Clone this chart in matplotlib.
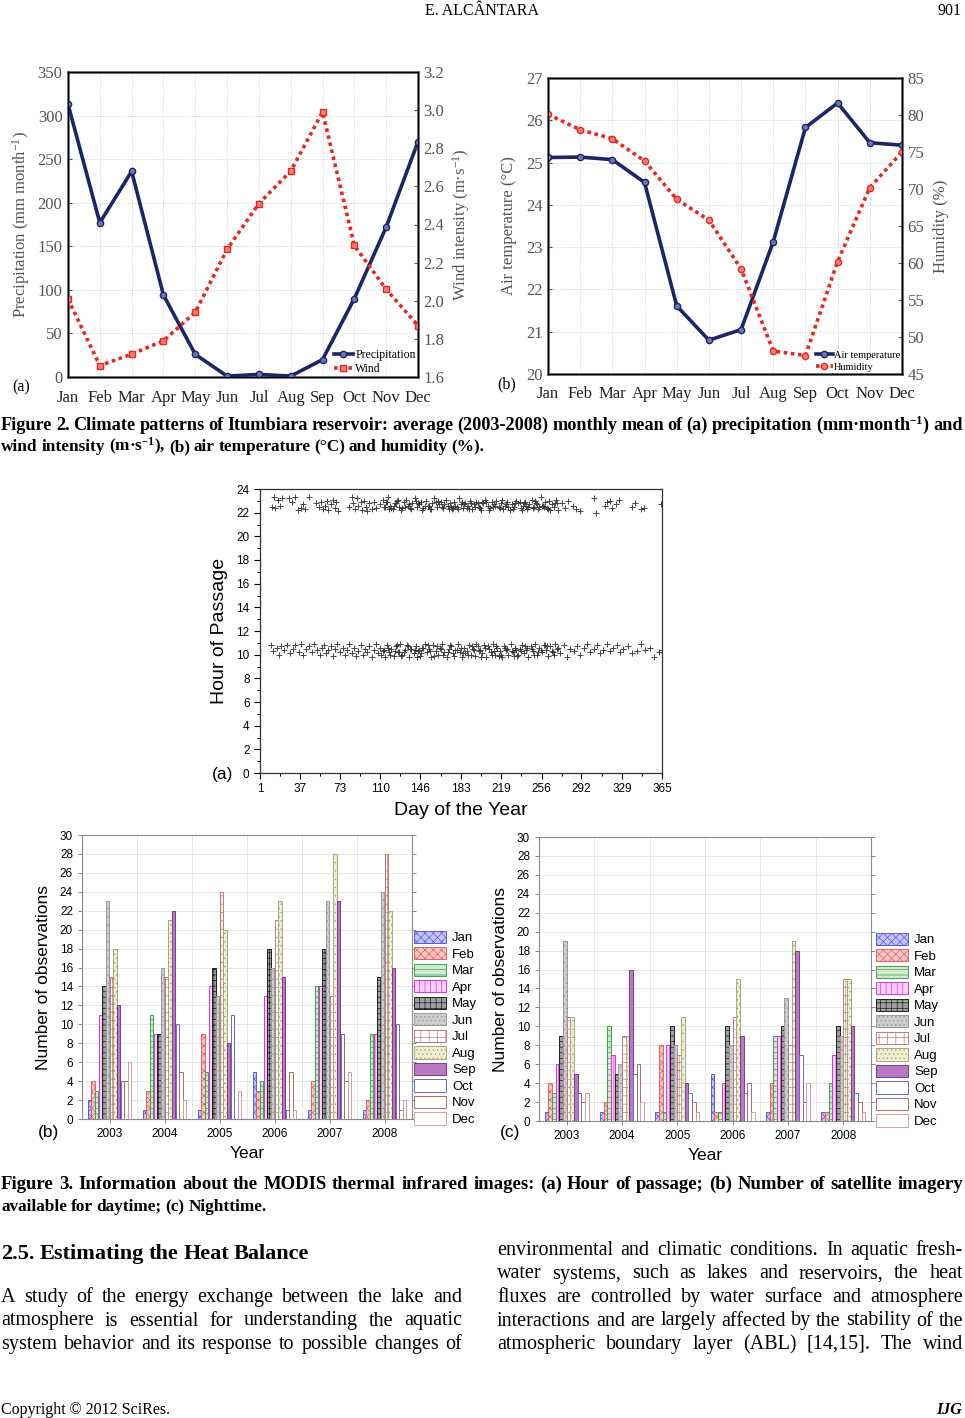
import matplotlib
matplotlib.use("Agg")
import matplotlib.pyplot as plt
from matplotlib.patches import Patch
import numpy as np

W, H = 965, 1418
SERIF = ["Liberation Serif", "DejaVu Serif"]
SANS = ["Liberation Sans", "DejaVu Sans"]

plt.rcParams["mathtext.default"] = "regular"
plt.rcParams["hatch.linewidth"] = 0.5

# Fig 2 data (monthly means 2003-2008)
MONTHS = ["Jan", "Feb", "Mar", "Apr", "May", "Jun", "Jul", "Aug", "Sep", "Oct", "Nov", "Dec"]
PRECIP = [313, 177, 236, 94, 26, 1, 3, 1, 20, 90, 172, 270]
WIND = [2.01, 1.66, 1.72, 1.79, 1.94, 2.27, 2.51, 2.68, 2.99, 2.29, 2.06, 1.87]
AIR_TEMP = [25.12, 25.13, 25.07, 24.53, 21.61, 20.80, 21.05, 23.13, 25.83, 26.41, 25.47, 25.41]
HUMIDITY = [80.1, 78.0, 76.8, 73.8, 68.6, 65.8, 59.2, 48.1, 47.5, 60.2, 70.2, 75.0]

# Fig 3a: MODIS passes (day of year, hour)
NIGHT_DAY = [
    12, 14, 15, 17, 19, 21, 27, 30, 33, 35,
    38, 40, 42, 45, 52, 54, 56, 58, 60, 62,
    63, 65, 67, 69, 70, 72, 82, 84, 85, 87,
    89, 90, 92, 93, 95, 97, 98, 100, 102, 104,
    106, 110, 112, 114, 116, 117, 119, 121, 123, 125,
    127, 129, 131, 133, 135, 137, 139, 141, 143, 145,
    147, 149, 151, 153, 155, 157, 159, 161, 163, 165,
    167, 169, 171, 173, 175, 177, 179, 181, 183, 185,
    187, 189, 191, 193, 195, 197, 199, 201, 203, 205,
    207, 209, 211, 213, 215, 217, 219, 221, 223, 225,
    227, 229, 231, 233, 235, 237, 239, 241, 243, 245,
    247, 249, 251, 253, 255, 257, 259, 261, 263, 265,
    267, 269, 271, 274, 277, 280, 284, 287, 291, 303,
    305, 313, 315, 318, 320, 323, 326, 338, 341, 346,
    118, 124, 130, 136, 142, 148, 154, 160, 166, 172,
    178, 184, 190, 196, 202, 208, 214, 220, 226, 232,
    238, 244, 250, 256, 262, 268, 113, 176, 198, 254,
    115, 120, 126, 132, 138, 144, 150, 156, 162, 168,
    174, 180, 186, 192, 200, 206, 212, 218, 224, 230,
    236, 242, 248, 252, 258, 264, 270, 122, 188, 240,
    349, 364,
]
NIGHT_HOUR = [
    22.5, 23.3, 22.4, 23.1, 22.6, 23.2, 23.2, 22.9, 23.3, 22.2,
    22.4, 22.7, 22.3, 23.3, 22.8, 22.5, 22.9, 22.3, 22.6, 23.0,
    22.2, 22.7, 23.1, 22.4, 22.9, 22.1, 22.5, 23.3, 22.8, 22.3,
    23.2, 22.6, 22.9, 22.2, 23.0, 22.5, 22.1, 22.8, 22.3, 22.9,
    22.4, 22.7, 23.1, 22.5, 22.9, 23.3, 22.6, 22.3, 22.8, 23.0,
    22.5, 22.2, 22.9, 23.1, 22.6, 22.4, 22.8, 23.2, 22.5, 22.7,
    22.9, 22.4, 23.0, 22.6, 22.3, 22.8, 23.2, 22.5, 22.7, 22.9,
    22.4, 23.1, 22.6, 22.8, 22.3, 22.9, 22.5, 23.2, 22.7, 22.4,
    22.8, 22.6, 23.0, 22.3, 22.7, 22.9, 22.5, 22.2, 22.8, 23.1,
    22.6, 22.4, 22.9, 22.7, 23.0, 22.5, 22.8, 22.3, 22.6, 22.9,
    22.2, 22.7, 22.5, 23.0, 22.8, 22.4, 22.6, 22.9, 22.3, 22.7,
    23.1, 22.5, 22.8, 22.3, 23.3, 22.6, 22.9, 22.4, 23.0, 22.7,
    22.5, 23.1, 22.2, 22.8, 22.4, 23.0, 22.6, 22.3, 22.1, 23.2,
    22.0, 22.6, 22.9, 23.0, 22.4, 22.7, 23.1, 22.5, 22.8, 22.3,
    22.3, 22.8, 22.4, 22.7, 23.0, 22.2, 22.6, 22.9, 22.5, 22.3,
    22.6, 22.9, 22.3, 22.5, 22.9, 22.2, 22.6, 23.1, 22.5, 22.8,
    22.2, 22.5, 23.0, 22.6, 22.3, 22.8, 22.5, 22.4, 22.8, 22.5,
    22.9, 22.4, 23.1, 22.5, 22.3, 22.8, 22.6, 22.3, 23.0, 22.7,
    22.5, 22.3, 22.7, 22.8, 22.4, 22.9, 22.5, 22.4, 22.7, 22.3,
    22.9, 22.6, 22.4, 22.7, 22.5, 22.2, 22.8, 22.6, 22.4, 22.8,
    22.4, 22.7,
]
DAY_DAY = [
    11, 13, 16, 18, 20, 23, 25, 28, 31, 33,
    36, 38, 40, 43, 45, 48, 50, 53, 55, 57,
    59, 61, 63, 65, 67, 69, 71, 73, 76, 78,
    80, 82, 84, 86, 88, 90, 92, 94, 96, 98,
    100, 102, 104, 106, 108, 110, 112, 114, 116, 118,
    120, 122, 124, 126, 128, 130, 132, 134, 136, 138,
    140, 142, 144, 146, 148, 150, 152, 154, 156, 158,
    160, 162, 164, 166, 168, 170, 172, 174, 176, 178,
    180, 182, 184, 186, 188, 190, 192, 194, 196, 198,
    200, 202, 204, 206, 208, 210, 212, 214, 216, 218,
    220, 222, 224, 226, 228, 230, 232, 234, 236, 238,
    240, 242, 244, 246, 248, 250, 252, 254, 256, 258,
    260, 262, 264, 266, 268, 270, 273, 276, 279, 282,
    285, 288, 291, 294, 297, 300, 303, 306, 309, 312,
    315, 318, 321, 324, 327, 330, 334, 338, 342, 346,
    111, 117, 123, 129, 135, 141, 147, 153, 159, 165,
    171, 177, 183, 189, 195, 201, 207, 213, 219, 225,
    231, 237, 243, 249, 255, 261, 267, 145, 185, 215,
    113, 119, 125, 131, 137, 143, 149, 155, 161, 167,
    173, 179, 187, 193, 199, 205, 211, 217, 223, 229,
    235, 241, 247, 253, 259, 265, 271, 127, 197, 233,
    350, 354, 358, 362, 365,
]
DAY_HOUR = [
    10.8, 10.3, 10.6, 10.0, 10.7, 10.4, 10.8, 10.1, 10.5, 10.8,
    10.2, 10.9, 10.0, 10.5, 10.7, 10.2, 10.9, 10.4, 10.0, 10.6,
    10.8, 10.1, 10.4, 10.7, 9.9, 10.5, 10.9, 10.2, 10.6, 10.0,
    10.4, 10.9, 10.1, 10.6, 9.9, 10.3, 10.8, 10.0, 10.5, 10.2,
    10.7, 9.8, 10.4, 10.9, 10.1, 10.6, 10.3, 9.8, 10.8, 10.2,
    10.5, 9.9, 10.7, 10.2, 10.9, 10.0, 10.4, 10.8, 9.8, 10.5,
    10.1, 10.7, 10.3, 9.9, 10.6, 10.9, 10.2, 10.5, 9.8, 10.8,
    10.3, 10.0, 10.6, 10.9, 10.2, 9.8, 10.5, 10.7, 10.1, 10.4,
    10.9, 10.2, 9.8, 10.6, 10.3, 10.8, 10.0, 10.5, 9.9, 10.7,
    10.4, 10.1, 10.8, 9.8, 10.5, 10.2, 10.9, 10.0, 10.6, 10.3,
    9.8, 10.7, 10.4, 10.0, 10.9, 10.2, 10.6, 9.9, 10.5, 10.8,
    10.1, 10.4, 9.8, 10.7, 10.3, 10.9, 10.0, 10.6, 10.2, 10.8,
    10.4, 9.9, 10.7, 10.2, 10.9, 10.5, 10.1, 10.8, 9.8, 10.5,
    10.3, 10.7, 10.0, 10.6, 10.9, 10.2, 10.5, 10.8, 10.1, 10.4,
    10.9, 10.3, 10.6, 10.8, 10.2, 10.5, 10.7, 10.1, 10.3, 10.9,
    10.0, 10.6, 10.3, 9.9, 10.7, 10.4, 10.1, 10.8, 9.9, 10.5,
    10.2, 9.9, 10.6, 10.0, 10.4, 9.8, 10.7, 10.3, 10.0, 10.5,
    9.9, 10.3, 10.6, 10.0, 10.4, 10.7, 10.0, 10.4, 10.1, 10.7,
    10.4, 10.0, 10.8, 10.2, 10.5, 9.8, 10.6, 10.3, 10.7, 10.0,
    10.8, 10.4, 10.1, 10.7, 10.3, 10.6, 10.0, 9.9, 10.6, 10.3,
    10.0, 10.7, 10.5, 10.2, 10.8, 10.3, 10.6, 10.2, 10.9, 10.4,
    10.4, 10.6, 9.8, 10.2, 10.4,
]
DOY_TICKS = [1, 37, 73, 110, 146, 183, 219, 256, 292, 329, 365]

# Fig 3b/c: number of observations per month (rows = years)
YEARS = [2003, 2004, 2005, 2006, 2007, 2008]
DAYTIME_COUNTS = [
    [2, 4, 3, 11, 14, 23, 15, 18, 12, 4, 4, 6],
    [1, 3, 11, 9, 9, 16, 15, 21, 22, 10, 5, 2],
    [1, 9, 5, 14, 16, 13, 24, 20, 8, 11, 0, 3],
    [5, 3, 4, 13, 18, 16, 21, 23, 15, 1, 5, 1],
    [1, 4, 14, 14, 18, 23, 13, 28, 23, 9, 4, 5],
    [1, 2, 9, 9, 15, 24, 28, 22, 16, 10, 1, 2],
]
NIGHTTIME_COUNTS = [
    [1, 4, 3, 6, 9, 19, 11, 11, 5, 3, 2, 3],
    [1, 2, 10, 7, 5, 6, 9, 9, 16, 5, 6, 2],
    [1, 8, 1, 8, 10, 8, 7, 11, 4, 3, 2, 1],
    [5, 1, 1, 4, 10, 8, 11, 15, 9, 3, 4, 1],
    [1, 4, 9, 9, 10, 13, 8, 19, 18, 7, 2, 4],
    [1, 1, 4, 7, 10, 9, 15, 15, 10, 3, 2, 1],
]

BAR_STYLES = [
    dict(facecolor="#c4c4fa", edgecolor="#5a5ae6", hatch="xxxx"),
    dict(facecolor="#fac8c4", edgecolor="#e66060", hatch="xxxx"),
    dict(facecolor="#cfeacf", edgecolor="#3fa050", hatch="---"),
    dict(facecolor="#fbd0fb", edgecolor="#e030e0", hatch="|||"),
    dict(facecolor="#a0a0a0", edgecolor="#202020", hatch="+++"),
    dict(facecolor="#cdcdcd", edgecolor="#9a9a9a", hatch="...."),
    dict(facecolor="#ffffff", edgecolor="#c07878", hatch="++"),
    dict(facecolor="#efefd6", edgecolor="#a8a878", hatch="...."),
    dict(facecolor="#b878c4", edgecolor="#7a3a8a", hatch=None),
    dict(facecolor="#ffffff", edgecolor="#6a6ac8", hatch=None),
    dict(facecolor="#ffffff", edgecolor="#b06868", hatch=None),
    dict(facecolor="#ffffff", edgecolor="#d0a0a0", hatch=None),
]

fig = plt.figure(figsize=(W / 100, H / 100), dpi=100)
renderer = fig.canvas.get_renderer()


def fx(x):
    return x / W


def fy(y):
    return 1 - y / H


def add_ax(x0, y0, x1, y1):
    return fig.add_axes([x0 / W, 1 - y1 / H, (x1 - x0) / W, (y1 - y0) / H])


def text_line(line, x0, x1, y, size, weight="normal", justify=True, family=SERIF, style="normal"):
    # place words one by one so the line fills the column like the journal page
    words = line.split(" ")
    arts = [fig.text(0, fy(y), w, fontsize=size, fontweight=weight, family=family,
                     style=style, va="baseline", ha="left") for w in words]
    widths = [a.get_window_extent(renderer).width for a in arts]
    space = 0.22 * size * 100 / 72
    need = sum(widths) + space * (len(words) - 1)
    if need > x1 - x0:
        k = (x1 - x0) / need
        for a in arts:
            a.set_fontsize(size * k)
        widths = [a.get_window_extent(renderer).width for a in arts]
        space *= k
    if justify and len(words) > 1:
        gap = (x1 - x0 - sum(widths)) / (len(words) - 1)
    else:
        gap = space
    x = x0
    for a, w in zip(arts, widths):
        a.set_x(fx(x))
        x += w + gap


def style_top(ax, ax2):
    for sp in ax.spines.values():
        sp.set_color("#4a5260")
        sp.set_linewidth(1.8)
    ax.set_xlim(0, 11)
    ax.set_xticks(range(12))
    ax.set_xticklabels(MONTHS, family=SERIF, fontsize=12, color="#222222")
    ax.grid(True, color="#c8c8c8", ls=":", lw=0.6)
    for a in (ax, ax2):
        a.tick_params(axis="y", labelsize=12, labelcolor="#555555", length=3, width=0.8,
                      direction="in", color="#4a5260", pad=4)
        for lab in a.get_yticklabels():
            lab.set_family(SERIF)
    ax.tick_params(axis="x", length=0, pad=9)


# ---- Figure 2 (a) precipitation / wind
x = np.arange(12)
ax = add_ax(68, 72, 418, 377)
ax2 = ax.twinx()
l1, = ax.plot(x, PRECIP, color="#1c2566", lw=2.6, marker="o", ms=4.5, mfc="#6d78b0",
              mec="#1c2566", mew=1, label="Precipitation", zorder=3)
l2, = ax2.plot(x, WIND, color="#e8281e", lw=2.6, ls=(0, (1, 1)), marker="s", ms=4.5,
               mfc="#f08078", mec="#e8281e", mew=1, label="Wind")
ax.set_ylim(0, 350)
ax.set_yticks(range(0, 351, 50))
ax2.set_ylim(1.6, 3.2)
ax2.set_yticks(np.arange(1.6, 3.21, 0.2))
ax2.set_yticklabels([f"{v:.1f}" for v in np.arange(1.6, 3.21, 0.2)])
style_top(ax, ax2)
ax.set_ylabel("Precipitation (mm month$^{-1}$)", family=SERIF, fontsize=12, color="#555555", labelpad=4)
ax2.set_ylabel("Wind intensity (m·s$^{-1}$)", family=SERIF, fontsize=12, color="#555555", labelpad=4)
ax2.legend(handles=[l1, l2], loc="lower right", frameon=False, handlelength=1.6,
           borderaxespad=0.1, borderpad=0.1, labelspacing=0.1, handletextpad=0.2,
           prop=dict(family=SERIF, size=8.5))
fig.text(fx(12), fy(387), "(a)", family=SERIF, fontsize=11.5, va="center")

# ---- Figure 2 (b) air temperature / humidity
ax = add_ax(548, 78, 902, 374)
ax2 = ax.twinx()
l1, = ax.plot(x, AIR_TEMP, color="#1c2566", lw=2.6, marker="o", ms=4.5, mfc="#6d78b0",
              mec="#1c2566", mew=1, label="Air temperature", zorder=3)
l2, = ax2.plot(x, HUMIDITY, color="#e8281e", lw=2.6, ls=(0, (1, 1)), marker="o", ms=4.5,
               mfc="#f08078", mec="#e8281e", mew=1, label="Humidity")
ax.set_ylim(20, 27)
ax.set_yticks(range(20, 28))
ax2.set_ylim(45, 85)
ax2.set_yticks(range(45, 86, 5))
style_top(ax, ax2)
ax.set_ylabel("Air temperature (°C)", family=SERIF, fontsize=12, color="#555555", labelpad=6)
ax2.set_ylabel("Humidity (%)", family=SERIF, fontsize=12, color="#555555", labelpad=6)
ax2.legend(handles=[l1, l2], loc="lower right", frameon=False, handlelength=1.6,
           borderaxespad=0.1, borderpad=0.1, labelspacing=0.3, handletextpad=0.1,
           prop=dict(family=SERIF, size=7.5))
fig.text(fx(497), fy(384), "(b)", family=SERIF, fontsize=11.5, va="center")

# ---- captions
text_line("Figure 2. Climate patterns of Itumbiara reservoir: average (2003-2008) monthly mean of (a) precipitation (mm·month$^{–1}$) and",
          1, 963, 430, 13.5, weight="bold")
text_line("wind intensity (m·s$^{–1}$), (b) air temperature (°C) and humidity (%).",
          1, 963, 451, 12.4, weight="bold", justify=False)

# ---- Figure 3 (a) hour of passage
ax = add_ax(260, 489, 662, 773)
ax.scatter(NIGHT_DAY, NIGHT_HOUR, marker="+", s=17, lw=0.65, c="#3a3a3a")
ax.scatter(DAY_DAY, DAY_HOUR, marker="+", s=17, lw=0.65, c="#3a3a3a")
ax.set_xlim(1, 365)
ax.set_ylim(0, 24)
ax.set_xticks(DOY_TICKS)
ax.set_xticks([(a + b) / 2 for a, b in zip(DOY_TICKS[:-1], DOY_TICKS[1:])], minor=True)
ax.set_yticks(range(0, 25, 2))
ax.set_yticks(range(0, 25, 1), minor=True)
ax.tick_params(which="both", direction="out", labelsize=8.5, width=0.8)
ax.tick_params(which="major", length=4)
ax.tick_params(which="minor", length=2)
for lab in ax.get_xticklabels() + ax.get_yticklabels():
    lab.set_family(SANS)
for sp in ax.spines.values():
    sp.set_linewidth(0.9)
    sp.set_color("#333333")
ax.set_xlabel("Day of the Year", family=SANS, fontsize=14, labelpad=5)
ax.set_ylabel("Hour of Passage", family=SANS, fontsize=14, labelpad=6)
fig.text(fx(212), fy(774), "(a)", family=SANS, fontsize=12.5, va="center")


# ---- Figure 3 (b)/(c) number of observations
def bar_panel(box, counts, legend_anchor, label_pos, tag):
    ax = add_ax(*box)
    width = 0.8 / 12
    for i, st in enumerate(BAR_STYLES):
        xs = [yr - 0.4 + (i + 0.5) * width for yr in YEARS]
        vals = [row[i] for row in counts]
        ax.bar(xs, vals, width=width, linewidth=0.7, zorder=3, **st)
    ax.set_xlim(YEARS[0] - 0.5, YEARS[-1] + 0.5)
    ax.set_ylim(0, 30)
    ax.set_yticks(range(0, 31, 2))
    ax.set_xticks(YEARS)
    ax.set_xticks([yr + 0.5 for yr in YEARS[:-1]], minor=True)
    ax.grid(True, axis="y", which="major", color="#e2e2e2", lw=0.6, zorder=0)
    ax.grid(True, axis="x", which="minor", color="#e2e2e2", lw=0.6, zorder=0)
    ax.tick_params(axis="both", which="major", labelsize=8.5, length=3, width=0.6,
                   color="#777777", right=True, direction="out")
    ax.tick_params(axis="x", which="minor", length=0)
    for lab in ax.get_xticklabels() + ax.get_yticklabels():
        lab.set_family(SANS)
    for sp in ax.spines.values():
        sp.set_color("#8a8a8a")
        sp.set_linewidth(0.8)
    ax.set_xlabel("Year", family=SANS, fontsize=12.5, labelpad=4)
    ax.set_ylabel("Number of observations", family=SANS, fontsize=12.5, labelpad=6)
    handles = [Patch(linewidth=0.7, **st) for st in BAR_STYLES]
    fig.legend(handles, MONTHS, loc="lower left", bbox_to_anchor=(fx(legend_anchor[0]), fy(legend_anchor[1])),
               frameon=False, handlelength=2.4, handleheight=1.05, labelspacing=0.22,
               handletextpad=0.5, borderpad=0, borderaxespad=0, prop=dict(family=SANS, size=9.5))
    fig.text(fx(label_pos[0]), fy(label_pos[1]), tag, family=SANS, fontsize=12.5, va="center")


bar_panel((82, 835, 412, 1119), DAYTIME_COUNTS, (414, 1126), (38, 1133), "(b)")
bar_panel((539, 837, 871, 1121), NIGHTTIME_COUNTS, (876, 1128), (500, 1133), "(c)")

text_line("Figure 3. Information about the MODIS thermal infrared images: (a) Hour of passage; (b) Number of satellite imagery",
          1, 963, 1189, 13.5, weight="bold")
text_line("available for daytime; (c) Nighttime.", 1, 963, 1211, 12.4, weight="bold", justify=False)

# ---- body text
text_line("2.5. Estimating the Heat Balance", 1, 460, 1259, 16, weight="bold", justify=False)
left_col = [
    "A study of the energy exchange between the lake and",
    "atmosphere is essential for understanding the aquatic",
    "system behavior and its response to possible changes of",
]
right_col = [
    "environmental and climatic conditions. In aquatic fresh-",
    "water systems, such as lakes and reservoirs, the heat",
    "fluxes are controlled by water surface and atmosphere",
    "interactions and are largely affected by the stability of the",
    "atmospheric boundary layer (ABL) [14,15]. The wind",
]
for i, ln in enumerate(left_col):
    text_line(ln, 1, 462, 1302 + 23.5 * i, 14.5)
for i, ln in enumerate(right_col):
    text_line(ln, 497, 963, 1255 + 23.5 * i, 14.5)

# header / footer
fig.text(fx(482), fy(15), "E. ALCÂNTARA", family=SERIF, fontsize=11.5, ha="center", va="baseline")
fig.text(fx(962), fy(15), "901", family=SERIF, fontsize=11.5, ha="right", va="baseline")
fig.text(fx(1), fy(1414), "Copyright © 2012 SciRes.", family=SERIF, fontsize=11.5, va="baseline")
fig.text(fx(962), fy(1414), "IJG", family=SERIF, fontsize=11.5, fontweight="bold", style="italic",
         ha="right", va="baseline")

fig.savefig("out.png", dpi=100)
